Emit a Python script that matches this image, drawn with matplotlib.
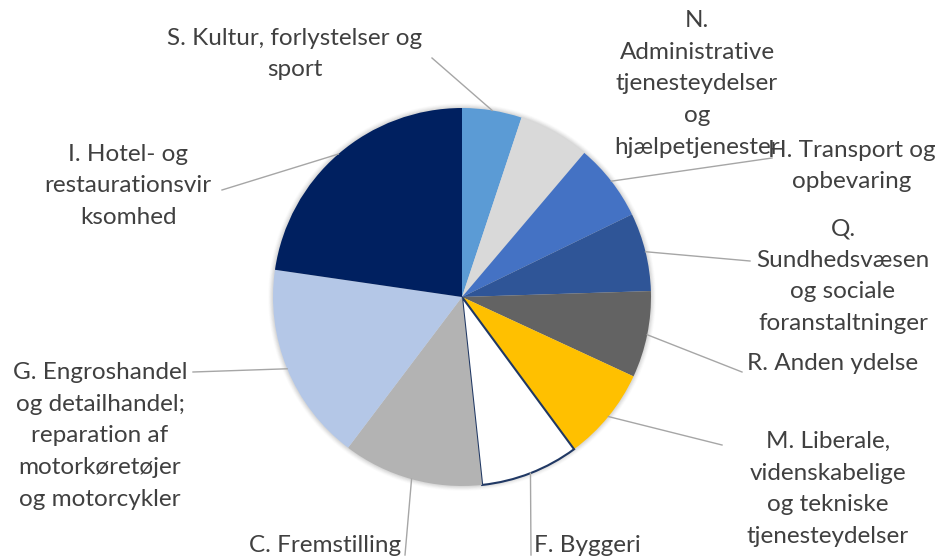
import matplotlib.pyplot as plt
import numpy as np

# shares of each industry (percent), clockwise from 12 o'clock
labels = [
    "S. Kultur, forlystelser og\nsport",
    "N.\nAdministrative\ntjenesteydelser\nog\nhjælpetjenester",
    "H. Transport og\nopbevaring",
    "Q.\nSundhedsvæsen\nog sociale\nforanstaltninger",
    "R. Anden ydelse",
    "M. Liberale,\nvidenskabelige\nog tekniske\ntjenesteydelser",
    "F. Byggeri",
    "C. Fremstilling",
    "G. Engroshandel\nog detailhandel;\nreparation af\nmotorkøretøjer\nog motorcykler",
    "I. Hotel- og\nrestaurationsvir\nksomhed",
]
shares = [5.1, 6.1, 6.6, 6.7, 7.4, 8.0, 8.4, 12.0, 17.0, 22.7]

colors = ["#5B9BD5", "#D9D9D9", "#4472C4", "#2F5597", "#636363",
          "#FFC000", "#FFFFFF", "#B3B3B3", "#B4C7E7", "#002060"]

# layout: label centre (pixels from top-left), leader end point
W, H = 935, 558
label_pos = [(295, 54), (697, 84), (852, 166), (843, 276), (833, 364),
             (828, 489), (587, 546), (325, 546), (100, 436), (128, 186)]
leader_end = [(432, 58), None, (772, 158), (750, 261), (742, 372),
              (722, 445), (531, 555), (405, 555), (193, 372), (222, 190)]

fig = plt.figure(figsize=(W / 100, H / 100), dpi=100)
ax = fig.add_axes([0, 0, 1, 1])

cx, cy, r = 462, H - 297, 189

# soft shadow round the pie
for k, a in zip(range(6, 0, -1), [0.03, 0.04, 0.05, 0.06, 0.07, 0.08]):
    ax.add_patch(plt.Circle((cx, cy), r + k * 0.8, color="#808080", alpha=a, lw=0, zorder=1))

wedges, _ = ax.pie(shares, colors=colors, startangle=90, counterclock=False,
                   center=(cx, cy), radius=r, frame=True,
                   wedgeprops=dict(linewidth=0, zorder=2))
ax.set_xlim(0, W)
ax.set_ylim(0, H)
ax.set_aspect("equal")
ax.axis("off")
wedges[6].set_edgecolor("#203864")
wedges[6].set_linewidth(1.5)

for w, lab, pos, end in zip(wedges, labels, label_pos, leader_end):
    mid = np.deg2rad((w.theta1 + w.theta2) / 2)
    ex, ey = cx + r * np.cos(mid), cy + r * np.sin(mid)
    if end is not None:
        ax.plot([ex, end[0]], [ey, H - end[1]], color="#A6A6A6", lw=1, zorder=3)
    ax.text(pos[0], H - pos[1], lab, ha="center", va="center", fontsize=17.5,
            family="Lato", color="#404040", linespacing=1.62, zorder=4)

fig.savefig("out.png", dpi=100)
